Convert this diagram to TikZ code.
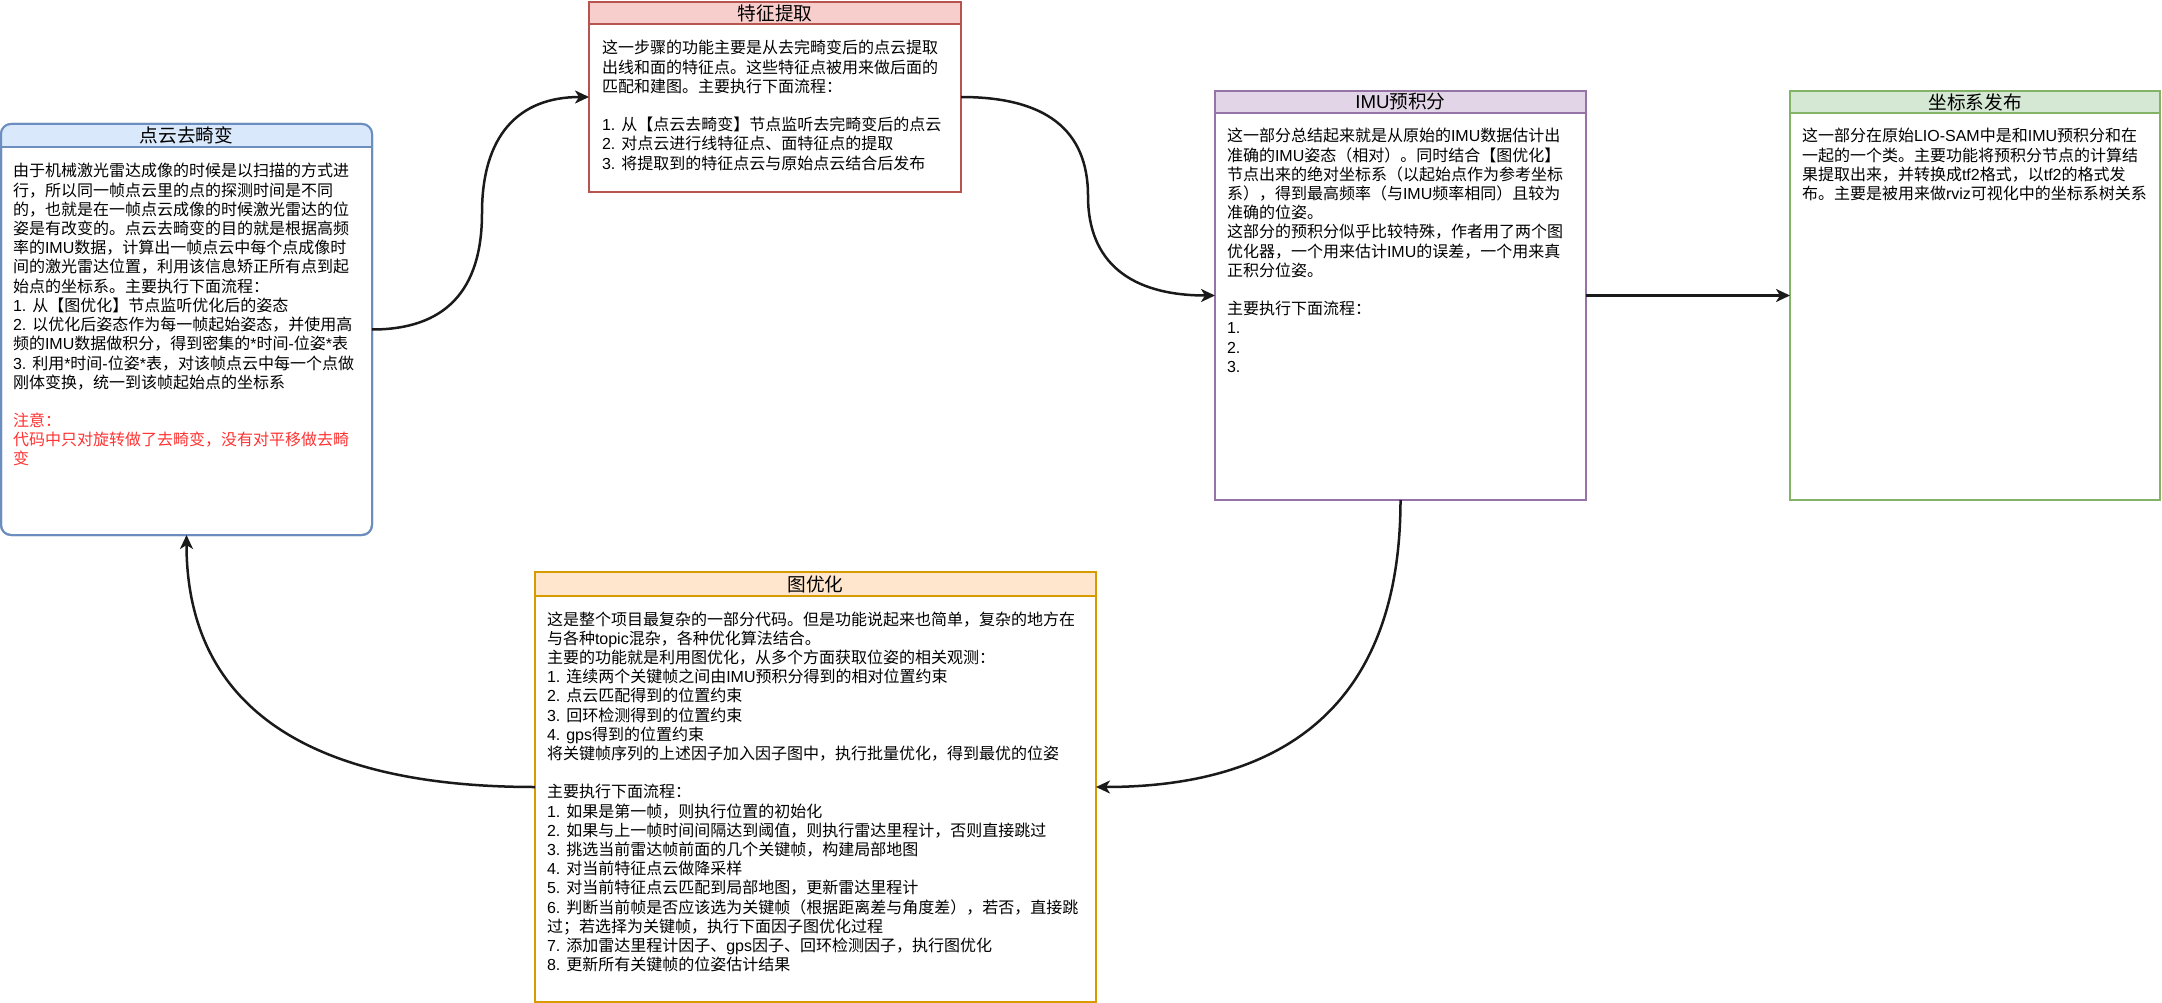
\documentclass[tikz,border=0pt]{standalone}
\usepackage{fontspec}
\setmainfont{Noto Sans CJK SC}
\newfontfamily\latfont{Liberation Sans}
\usetikzlibrary{arrows.meta,calc}
\definecolor{blueF}{HTML}{DAE8FC}\definecolor{blueS}{HTML}{6C8EBF}
\definecolor{redF}{HTML}{F8CECC}\definecolor{redS}{HTML}{B85450}
\definecolor{purF}{HTML}{E1D5E7}\definecolor{purS}{HTML}{9673A6}
\definecolor{grnF}{HTML}{D5E8D4}\definecolor{grnS}{HTML}{82B366}
\definecolor{orgF}{HTML}{FFE6CC}\definecolor{orgS}{HTML}{D79B00}
\definecolor{redtxt}{HTML}{FF3333}
\definecolor{linec}{HTML}{1A1A1A}
\newcommand\ltn[1]{{\latfont #1}}
\newcommand\bodyfont{\fontsize{16pt}{19.2pt}\selectfont}
\newcommand\titlefont{\fontsize{18.67pt}{22pt}\selectfont}
\begin{document}
\begin{tikzpicture}[x=1pt,y=-1pt,
  box/.style={draw, line width=2pt, fill=white, outer sep=0pt, inner sep=0pt, anchor=north west},
  ttl/.style={font=\titlefont, inner sep=0pt},
  body/.style={anchor=base west, inner sep=0pt, outer sep=0pt},
  conn/.style={line width=2.5pt, draw=linec, -{Stealth[length=14pt,width=13pt,inset=4pt]}}]
\useasboundingbox[fill=white] (0,0) rectangle (2162,1003);

% ---- box 1: 点云去畸变
\node[box, draw=blueS, rounded corners=10pt, minimum width=371pt, minimum height=411pt] (n1) at (1,124) {};
\begin{scope}
  \clip[rounded corners=10pt] (n1.north west) rectangle (n1.south east);
  \fill[blueF] (n1.north west) rectangle ($(n1.north east)+(0,23)$);
\end{scope}
\draw[blueS, line width=2pt] ($(n1.north west)+(0,23)$) -- ($(n1.north east)+(0,23)$);
\draw[blueS, line width=2pt, rounded corners=10pt] (n1.north west) rectangle (n1.south east);
\node[ttl] (h1) at ($(n1.north)+(0,11.5)$) {点云去畸变};
\node[body] (t1) at (13,177) {\parbox[t]{1000pt}{\bodyfont
由于机械激光雷达成像的时候是以扫描的方式进\\
行，所以同一帧点云里的点的探测时间是不同\\
的，也就是在一帧点云成像的时候激光雷达的位\\
姿是有改变的。点云去畸变的目的就是根据高频\\
率的\ltn{IMU}数据，计算出一帧点云中每个点成像时\\
间的激光雷达位置，利用该信息矫正所有点到起\\
始点的坐标系。主要执行下面流程：\\
\ltn{1. }从【图优化】节点监听优化后的姿态\\
\ltn{2. }以优化后姿态作为每一帧起始姿态，并使用高\\
频的\ltn{IMU}数据做积分，得到密集的\ltn{*}时间\ltn{-}位姿\ltn{*}表\\
\ltn{3. }利用\ltn{*}时间\ltn{-}位姿\ltn{*}表，对该帧点云中每一个点做\\
刚体变换，统一到该帧起始点的坐标系\\
\mbox{}\\
{\color{redtxt}注意：\\
代码中只对旋转做了去畸变，没有对平移做去畸\\
变}}};

% ---- box 2: 特征提取
\node[box, draw=redS, minimum width=372pt, minimum height=190pt] (n2) at (589,2) {};
\node[box, draw=redS, fill=redF, minimum width=372pt, minimum height=22pt, font=\titlefont] (h2) at (589,2) {特征提取};
\node[body] (t2) at (602,54) {\parbox[t]{1000pt}{\bodyfont
这一步骤的功能主要是从去完畸变后的点云提取\\
出线和面的特征点。这些特征点被用来做后面的\\
匹配和建图。主要执行下面流程：\\
\mbox{}\\
\ltn{1. }从【点云去畸变】节点监听去完畸变后的点云\\
\ltn{2. }对点云进行线特征点、面特征点的提取\\
\ltn{3. }将提取到的特征点云与原始点云结合后发布}};

% ---- box 3: IMU预积分
\node[box, draw=purS, minimum width=371pt, minimum height=409pt] (n3) at (1215,91) {};
\node[box, draw=purS, fill=purF, minimum width=371pt, minimum height=22pt, font=\titlefont] (h3) at (1215,91) {\ltn{IMU}预积分};
\node[body] (t3) at (1227,142) {\parbox[t]{1000pt}{\bodyfont
这一部分总结起来就是从原始的\ltn{IMU}数据估计出\\
准确的\ltn{IMU}姿态（相对）。同时结合【图优化】\\
节点出来的绝对坐标系（以起始点作为参考坐标\\
系），得到最高频率（与\ltn{IMU}频率相同）且较为\\
准确的位姿。\\
这部分的预积分似乎比较特殊，作者用了两个图\\
优化器，一个用来估计\ltn{IMU}的误差，一个用来真\\
正积分位姿。\\
\mbox{}\\
主要执行下面流程：\\
\ltn{1.}\\
\ltn{2.}\\
\ltn{3.}}};

% ---- box 4: 坐标系发布
\node[box, draw=grnS, minimum width=370pt, minimum height=409pt] (n4) at (1790,91) {};
\node[box, draw=grnS, fill=grnF, minimum width=370pt, minimum height=22pt, font=\titlefont] (h4) at (1790,91) {坐标系发布};
\node[body] (t4) at (1802,142) {\parbox[t]{1000pt}{\bodyfont
这一部分在原始\ltn{LIO-SAM}中是和\ltn{IMU}预积分和在\\
一起的一个类。主要功能将预积分节点的计算结\\
果提取出来，并转换成\ltn{tf2}格式，以\ltn{tf2}的格式发\\
布。主要是被用来做\ltn{rviz}可视化中的坐标系树关系}};

% ---- box 5: 图优化
\node[box, draw=orgS, minimum width=561pt, minimum height=430pt] (n5) at (535,572) {};
\node[box, draw=orgS, fill=orgF, minimum width=561pt, minimum height=24pt, font=\titlefont] (h5) at (535,572) {图优化};
\node[body] (t5) at (547,625) {\parbox[t]{1000pt}{\bodyfont
这是整个项目最复杂的一部分代码。但是功能说起来也简单，复杂的地方在\\
与各种\ltn{topic}混杂，各种优化算法结合。\\
主要的功能就是利用图优化，从多个方面获取位姿的相关观测：\\
\ltn{1. }连续两个关键帧之间由\ltn{IMU}预积分得到的相对位置约束\\
\ltn{2. }点云匹配得到的位置约束\\
\ltn{3. }回环检测得到的位置约束\\
\ltn{4. gps}得到的位置约束\\
将关键帧序列的上述因子加入因子图中，执行批量优化，得到最优的位姿\\
\mbox{}\\
主要执行下面流程：\\
\ltn{1. }如果是第一帧，则执行位置的初始化\\
\ltn{2. }如果与上一帧时间间隔达到阈值，则执行雷达里程计，否则直接跳过\\
\ltn{3. }挑选当前雷达帧前面的几个关键帧，构建局部地图\\
\ltn{4. }对当前特征点云做降采样\\
\ltn{5. }对当前特征点云匹配到局部地图，更新雷达里程计\\
\ltn{6. }判断当前帧是否应该选为关键帧（根据距离差与角度差），若否，直接跳\\
过；若选择为关键帧，执行下面因子图优化过程\\
\ltn{7. }添加雷达里程计因子、\ltn{gps}因子、回环检测因子，执行图优化\\
\ltn{8. }更新所有关键帧的位姿估计结果}};

% ---- connectors
\coordinate (m1) at (482,213);
\coordinate (m2) at (1088,196);
\draw[conn] (n1.east) .. controls +(73,0) and +(0,78) .. (m1)
            .. controls +(0,-77) and +(-71,0) .. (n2.west);
\draw[conn] (n2.east) .. controls +(85,0) and +(0,-66) .. (m2)
            .. controls +(0,66) and +(-85,0) .. (n3.west);
\draw[conn] (n3.east) -- (n4.west);
\draw[conn] (n3.south) .. controls +(0,191) and +(203,0) .. (n5.east);
\draw[conn] (n5.west) .. controls +(-232,0) and +(0,168) .. (n1.south);
\end{tikzpicture}
\end{document}
